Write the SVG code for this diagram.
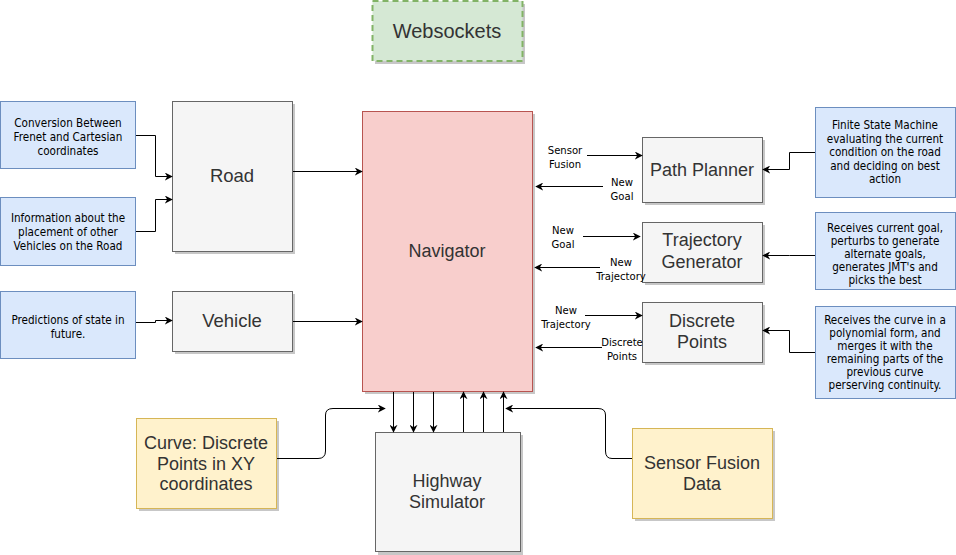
<svg xmlns="http://www.w3.org/2000/svg" width="956" height="555" viewBox="0 0 956 555">
<defs>
<marker id="arr" viewBox="0 0 10 10" refX="9" refY="5" markerWidth="8" markerHeight="8" markerUnits="userSpaceOnUse" orient="auto">
<path d="M0,0 L10,5 L0,10 L3,5 z" fill="#000"/>
</marker>
</defs>
<style>
.blue{fill:#dae8fc;stroke:#6c8ebf;stroke-width:1}
.gray{fill:#f5f5f5;stroke:#666666;stroke-width:1}
.yel{fill:#fff2cc;stroke:#d6b656;stroke-width:1}
.pink{fill:#f8cecc;stroke:#b85450;stroke-width:1}
.green{fill:#d5e8d4;stroke:#82b366;stroke-width:2;stroke-dasharray:6 4}
.sh{fill:#000;opacity:0.22}
.big{font-family:"Liberation Sans",Arial,sans-serif;font-size:18px;fill:#333333;text-anchor:middle}
.sm{font-family:"DejaVu Sans Condensed","Liberation Sans",sans-serif;font-size:11.6px;fill:#000;text-anchor:middle}
.lbl{font-family:"DejaVu Sans Condensed","Liberation Sans",sans-serif;font-size:11.2px;fill:#000;text-anchor:middle}
.c{fill:none;stroke:#000;stroke-width:1;marker-end:url(#arr)}
</style>
<rect width="956" height="555" fill="#fff"/>

<g id="websockets">
<rect class="sh" x="375" y="4" width="150" height="60"/>
<rect class="green" x="372.5" y="1" width="150" height="60"/>
<text class="big" x="447" y="38" style="font-size:20px">Websockets</text>
</g>

<g id="conv">
<rect class="blue" x="0.5" y="101.5" width="135" height="67"/>
<text class="sm" x="68" y="127">Conversion Between</text>
<text class="sm" x="68" y="141">Frenet and Cartesian</text>
<text class="sm" x="68" y="155">coordinates</text>
</g>
<g id="info">
<rect class="blue" x="0.5" y="197.5" width="135" height="68"/>
<text class="sm" x="68" y="222">Information about the</text>
<text class="sm" x="68" y="236">placement of other</text>
<text class="sm" x="68" y="250">Vehicles on the Road</text>
</g>
<g id="pred">
<rect class="blue" x="0.5" y="291.5" width="135" height="67"/>
<text class="sm" x="68" y="324">Predictions of state in</text>
<text class="sm" x="68" y="338">future.</text>
</g>

<g id="road">
<rect class="sh" x="175" y="104" width="120" height="150"/>
<rect class="gray" x="172.5" y="101.5" width="120" height="150"/>
<text class="big" x="232" y="182" style="font-size:18.5px">Road</text>
</g>
<g id="vehicle">
<rect class="sh" x="175" y="294" width="120" height="60"/>
<rect class="gray" x="172.5" y="291.5" width="120" height="60"/>
<text class="big" x="232" y="327" style="font-size:18.5px">Vehicle</text>
</g>

<g id="navigator">
<rect class="sh" x="365" y="114" width="170" height="280"/>
<rect class="pink" x="362.5" y="111.5" width="170" height="280"/>
<text class="big" x="447" y="257">Navigator</text>
</g>

<g id="pathplanner">
<rect class="sh" x="645" y="140" width="120" height="65"/>
<rect class="gray" x="642.5" y="137.5" width="120" height="65"/>
<text class="big" x="702" y="176">Path Planner</text>
</g>
<g id="trajgen">
<rect class="sh" x="645" y="225" width="120" height="60"/>
<rect class="gray" x="642.5" y="222.5" width="120" height="60"/>
<text class="big" x="702" y="246">Trajectory</text>
<text class="big" x="702" y="268">Generator</text>
</g>
<g id="discrete">
<rect class="sh" x="645" y="305" width="120" height="60"/>
<rect class="gray" x="642.5" y="302.5" width="120" height="60"/>
<text class="big" x="702" y="327">Discrete</text>
<text class="big" x="702" y="348">Points</text>
</g>

<g id="fsm">
<rect class="blue" x="815.5" y="107.5" width="140" height="90"/>
<text class="sm" x="885" y="129">Finite State Machine</text>
<text class="sm" x="885" y="142.5">evaluating the current</text>
<text class="sm" x="885" y="156">condition on the road</text>
<text class="sm" x="885" y="169.5">and deciding on best</text>
<text class="sm" x="885" y="183">action</text>
</g>
<g id="recv">
<rect class="blue" x="815.5" y="212.5" width="140" height="77"/>
<text class="sm" x="885" y="232">Receives current goal,</text>
<text class="sm" x="885" y="245">perturbs to generate</text>
<text class="sm" x="885" y="258">alternate goals,</text>
<text class="sm" x="885" y="271">generates JMT's and</text>
<text class="sm" x="885" y="284">picks the best</text>
</g>
<g id="curvedesc">
<rect class="blue" x="815.5" y="306.5" width="140" height="92"/>
<text class="sm" x="885" y="323.5">Receives the curve in a</text>
<text class="sm" x="885" y="336.5">polynomial form, and</text>
<text class="sm" x="885" y="350">merges it with the</text>
<text class="sm" x="885" y="363">remaining parts of the</text>
<text class="sm" x="885" y="376">previous curve</text>
<text class="sm" x="885" y="389">perserving continuity.</text>
</g>

<g id="highway">
<rect class="sh" x="378" y="435" width="145" height="120"/>
<rect class="gray" x="375.5" y="432.5" width="145" height="119"/>
<text class="big" x="447" y="487">Highway</text>
<text class="big" x="447" y="508">Simulator</text>
</g>
<g id="curve">
<rect class="sh" x="139" y="421" width="140" height="90"/>
<rect class="yel" x="136.5" y="418.5" width="140" height="90"/>
<text class="big" x="206" y="449">Curve: Discrete</text>
<text class="big" x="206" y="470">Points in XY</text>
<text class="big" x="206" y="490">coordinates</text>
</g>
<g id="sensordata">
<rect class="sh" x="635" y="431" width="140" height="90"/>
<rect class="yel" x="632.5" y="428.5" width="140" height="90"/>
<text class="big" x="702" y="469">Sensor Fusion</text>
<text class="big" x="702" y="490">Data</text>
</g>

<g id="connectors">
<path class="c" d="M136,135.5 H155.5 V176.5 H172"/>
<path class="c" d="M136,231.5 H155.5 V199.5 H172"/>
<path class="c" d="M136,322.5 H155.5 V320.5 H172"/>
<path class="c" d="M293,171.5 H362"/>
<path class="c" d="M293,321.5 H362"/>

<path class="c" d="M587,155.5 H642"/>
<path class="c" d="M603,186.5 H536"/>
<path class="c" d="M583,236.5 H640"/>
<path class="c" d="M600,267.5 H535"/>
<path class="c" d="M585,315.5 H642"/>
<path class="c" d="M602,347.5 H536"/>

<path class="c" d="M815,152.5 H789.5 V169.5 H763"/>
<path class="c" d="M815,255.5 H789.5 V255.5 H763"/>
<path class="c" d="M815,352.5 H789.5 V330.5 H763"/>

<path class="c" d="M393.5,392 V432"/>
<path class="c" d="M413.5,392 V432"/>
<path class="c" d="M433.5,392 V432"/>
<path class="c" d="M463.5,432 V392"/>
<path class="c" d="M483.5,432 V392"/>
<path class="c" d="M503.5,432 V392"/>

<path class="c" d="M277,458.5 H318 Q325.5,458.5 325.5,451 V415 Q325.5,408.5 333,408.5 H385"/>
<path class="c" d="M632,458.5 H612 Q605.5,458.5 605.5,451 V415 Q605.5,408.5 598,408.5 H506"/>
</g>

<g id="labels">
<text class="lbl" x="565" y="154">Sensor</text>
<text class="lbl" x="565" y="168">Fusion</text>
<text class="lbl" x="622" y="186">New</text>
<text class="lbl" x="622" y="200">Goal</text>
<text class="lbl" x="563" y="234">New</text>
<text class="lbl" x="563" y="248">Goal</text>
<text class="lbl" x="621" y="266">New</text>
<text class="lbl" x="621" y="280">Trajectory</text>
<text class="lbl" x="566" y="314">New</text>
<text class="lbl" x="566" y="328">Trajectory</text>
<text class="lbl" x="622" y="346">Discrete</text>
<text class="lbl" x="622" y="360">Points</text>
</g>
</svg>
